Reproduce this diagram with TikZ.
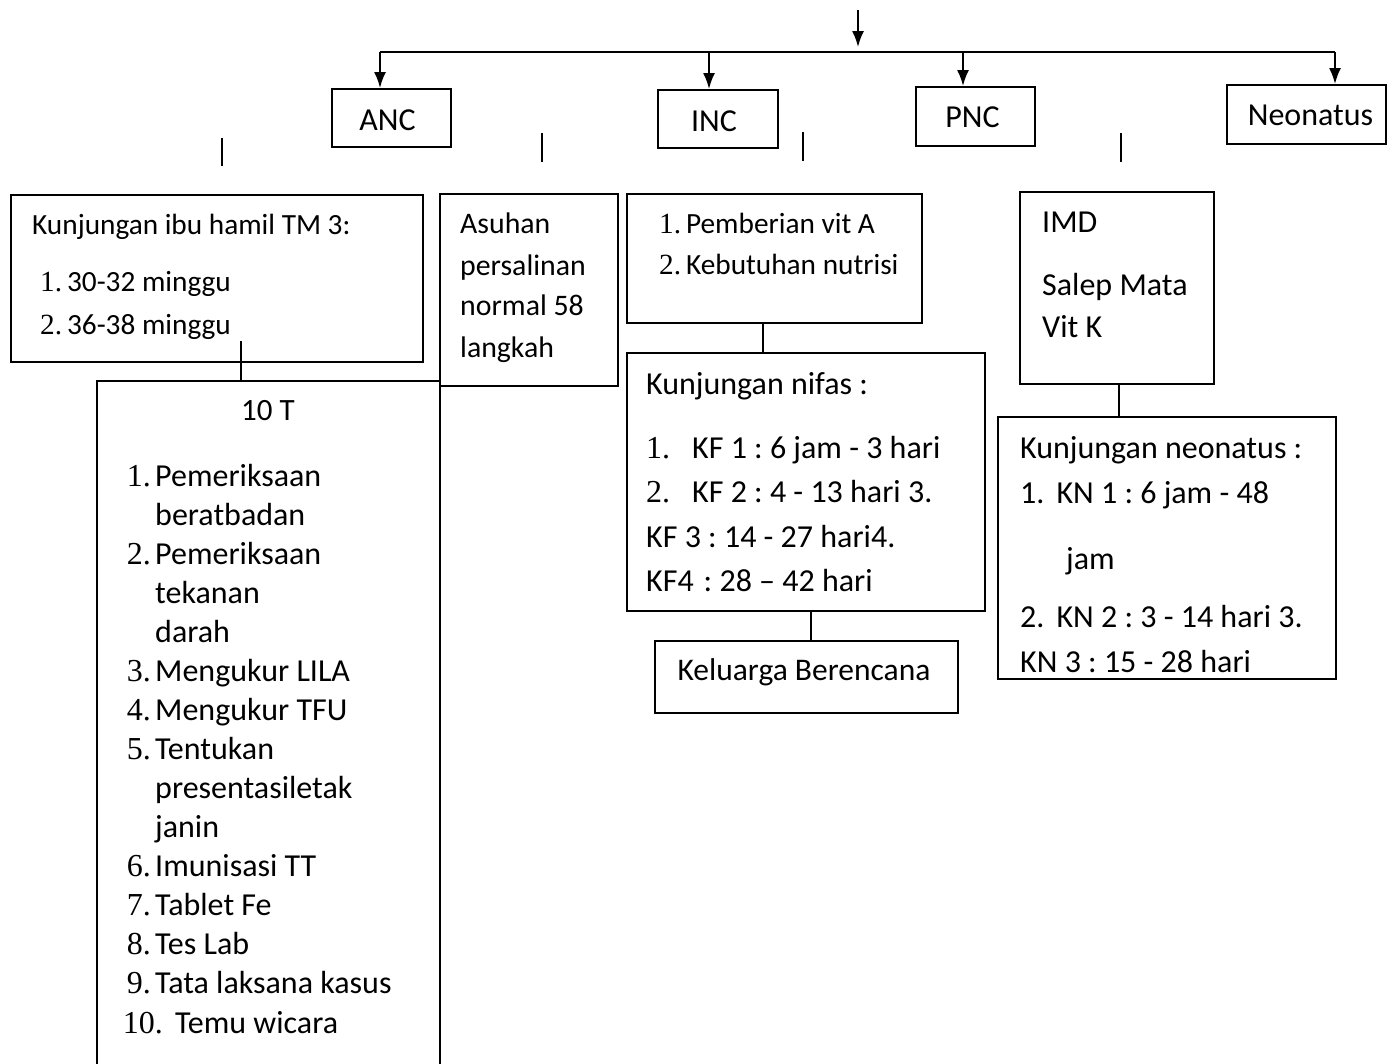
\documentclass[tikz,border=0pt]{standalone}
\usepackage{fontspec}
\setmainfont{Carlito}
\newfontfamily\numfont{Liberation Serif}
\usetikzlibrary{arrows.meta,calc}
\frenchspacing
\begin{document}
\begin{tikzpicture}[x=1pt,y=-1pt,
  box/.style={draw,line width=2pt,inner sep=0pt,anchor=north west},
  txt/.style={anchor=base west,inner sep=0pt,font=\fontsize{29.3}{34}\selectfont},
  big/.style={anchor=base west,inner sep=0pt,font=\fontsize{32}{38}\selectfont},
  ttl/.style={anchor=center,inner sep=0pt,font=\fontsize{32}{38}\selectfont},
  lst/.style={anchor=base west,inner sep=0pt,font=\fontsize{32}{38}\selectfont},
  conn/.style={line width=1.8pt},
  arr/.style={line width=1.8pt,-{Latex[length=16pt,width=12pt]}}]
\useasboundingbox (0,0) rectangle (1394,1063);
% top boxes
\node[box,minimum width=119pt,minimum height=58pt] (anc) at (331,88) {};
\node[ttl] (ancT) at ($(anc.center)+(-4,2)$) {ANC};
\node[box,minimum width=120pt,minimum height=58pt] (inc) at (657,89) {};
\node[ttl] (incT) at ($(inc.center)+(-4,2)$) {INC};
\node[box,minimum width=119pt,minimum height=59pt] (pnc) at (915,86) {};
\node[ttl] (pncT) at ($(pnc.center)+(-3,1)$) {PNC};
\node[box,minimum width=159pt,minimum height=59pt] (neo) at (1226,84) {};
\node[ttl] (neoT) at ($(neo.center)+(4,1)$) {Neonatus};
% bus
\coordinate (top) at (858,10);
\coordinate (topE) at (858,47);
\coordinate (b1) at (380,52);
\coordinate (b2) at (709,52);
\coordinate (b3) at (963,52);
\coordinate (b4) at (1335,52);
\draw[arr] (top) -- (topE);
\draw[line width=2.5pt] (b1) -- (b4);
\draw[arr] (b1) -- (b1 |- anc.north);
\draw[arr] (b2) -- (b2 |- inc.north);
\draw[arr] (b3) -- (b3 |- pnc.north);
\draw[arr] (b4) -- (b4 |- neo.north);
% loose short lines
\coordinate (s1a) at (222,138); \coordinate (s1b) at (222,166);
\coordinate (s2a) at (542,133); \coordinate (s2b) at (542,162);
\coordinate (s3a) at (803,132); \coordinate (s3b) at (803,161);
\coordinate (s4a) at (1121,133); \coordinate (s4b) at (1121,162);
\draw[conn] (s1a) -- (s1b);
\draw[conn] (s2a) -- (s2b);
\draw[conn] (s3a) -- (s3b);
\draw[conn] (s4a) -- (s4b);
% ANC column
\node[box,minimum width=412pt,minimum height=167pt] (kun) at (10,194) {};
\node[txt] (kun0) at (32,234) {Kunjungan ibu hamil TM 3:};
\node[txt] (kun1) at (40,291) {{\numfont 1.}\,30-32 minggu};
\node[txt] (kun2) at (40,334) {{\numfont 2.}\,36-38 minggu};
\node[box,minimum width=343pt,minimum height=700pt] (tt) at (96,380) {};
\coordinate (k1) at (241,341);
\draw[conn] (k1) -- (k1 |- tt.north);
\node[ttl,font=\fontsize{31}{36}\selectfont] (ttT) at (268,411) {10 T};
\foreach \n/\y/\t in {1/486/{Pemeriksaan},2/564/{Pemeriksaan},3/681/{Mengukur LILA},4/720/{Mengukur TFU},5/759/{Tentukan},6/876/{Imunisasi TT},7/915/{Tablet Fe},8/954/{Tes Lab},9/993/{Tata laksana kasus}}{
  \node[lst,anchor=base east] (tn\n) at (151,\y) {\numfont\n.};
  \node[lst] (tt\n) at (155,\y) {\t};
}
\node[lst] (tc1) at (155,525) {beratbadan};
\node[lst] (tc2) at (155,603) {tekanan};
\node[lst] (tc3) at (155,642) {darah};
\node[lst] (tc4) at (155,798) {presentasiletak};
\node[lst] (tc5) at (155,837) {janin};
\node[lst,anchor=base east] (tn10) at (163,1033) {\numfont 10.};
\node[lst] (tt10) at (175,1033) {Temu wicara};
% INC column
\node[box,minimum width=178pt,minimum height=192pt] (asu) at (439,193) {};
\node[txt,font=\fontsize{29.8}{34}\selectfont] (asu1) at (460,233) {Asuhan};
\node[txt,font=\fontsize{29.8}{34}\selectfont] (asu2) at (460,275) {persalinan};
\node[txt,font=\fontsize{29.8}{34}\selectfont] (asu3) at (460,315) {normal 58};
\node[txt,font=\fontsize{29.8}{34}\selectfont] (asu4) at (460,357) {langkah};
% PNC column
\node[box,minimum width=295pt,minimum height=129pt] (vit) at (626,193) {};
\node[txt] (vit1) at (659,233) {{\numfont 1.}\,Pemberian vit A};
\node[txt] (vit2) at (659,274) {{\numfont 2.}\,Kebutuhan nutrisi};
\node[box,minimum width=358pt,minimum height=258pt] (nif) at (626,352) {};
\coordinate (v1) at (763,322);
\draw[conn] (v1) -- (v1 |- nif.north);
\node[big] (nif0) at (646,394) {Kunjungan nifas :};
\node[big] (nif1) at (646,458) {{\numfont 1.}\hspace{22pt}KF 1 : 6 jam - 3 hari};
\node[big] (nif2) at (646,502) {{\numfont 2.}\hspace{22pt}KF 2 : 4 - 13 hari 3.};
\node[big] (nif3) at (646,547) {KF 3 : 14 - 27 hari4.};
\node[big] (nif4) at (646,591) {KF4\hspace{10pt}: 28 – 42 hari};
\node[box,minimum width=303pt,minimum height=72pt] (kb) at (654,640) {};
\node[ttl,font=\fontsize{31.5}{36}\selectfont] (kbT) at (804,672) {Keluarga Berencana};
\coordinate (n1) at (811,610);
\draw[conn] (n1) -- (n1 |- kb.north);
% Neonatus column
\node[box,minimum width=194pt,minimum height=192pt] (imd) at (1019,191) {};
\node[big] (imd1) at (1042,232) {IMD};
\node[big] (imd2) at (1042,295) {Salep Mata};
\node[big] (imd3) at (1042,337) {Vit K};
\node[box,minimum width=338pt,minimum height=262pt] (kn) at (997,416) {};
\coordinate (i1) at (1119,383);
\draw[conn] (i1) -- (i1 |- kn.north);
\node[big] (kn0) at (1020,458) {Kunjungan neonatus :};
\node[big] (kn1) at (1020,503) {1.\hspace{12pt}KN 1 : 6 jam - 48};
\node[big] (kn2) at (1066,569) {jam};
\node[big] (kn3) at (1020,627) {2.\hspace{12pt}KN 2 : 3 - 14 hari 3.};
\node[big] (kn4) at (1020,672) {KN 3 : 15 - 28 hari};
\end{tikzpicture}
\end{document}
